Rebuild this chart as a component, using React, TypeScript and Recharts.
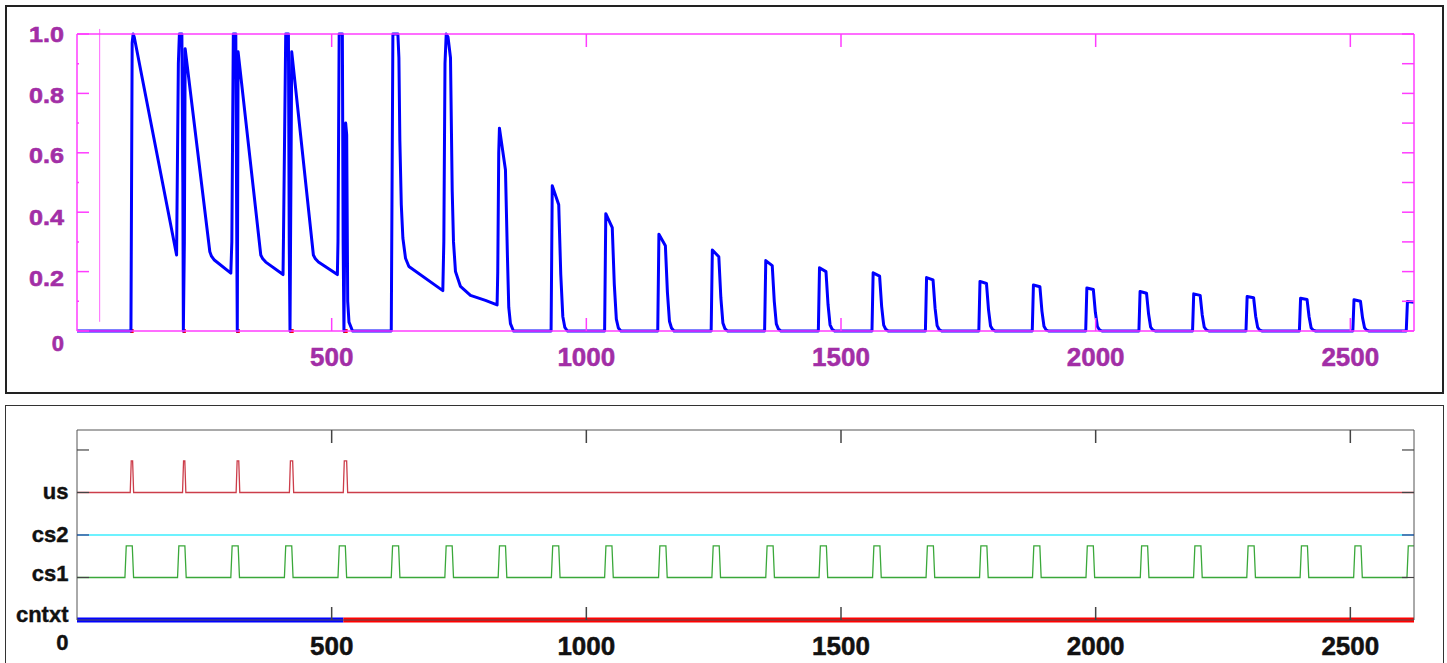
import React from 'react';
import { LineChart, Line, XAxis, YAxis, ReferenceLine } from 'recharts';

// time axis
const T_MAX = 2625;
const xTicks = [500, 1000, 1500, 2000, 2500];

// top panel: response trace as [time, value]
const topYTicks = [0, 0.1, 0.2, 0.3, 0.4, 0.5, 0.6, 0.7, 0.8, 0.9, 1];
const excitation: [number, number][] = [
  [0, 0], [105.9, 0], [108.3, 0.97], [110.2, 1.0], [112.4, 0.99], [195.5, 0.256],
  [199, 0.9], [201, 1.0], [205.9, 1.0], [207.8, 0.5], [208.8, 0], [210.8, 0.3], [212.4, 0.95],
  [260.8, 0.267], [264, 0.252], [269, 0.24], [302, 0.195],
  [304, 0.3], [306.9, 1.0], [311.8, 1.0], [313.7, 0.3], [314.7, 0], [316.3, 0.94],
  [360.8, 0.256], [364.7, 0.243], [370.6, 0.232], [404.5, 0.19],
  [405.3, 0.3], [409.8, 1.0], [415.1, 1.0], [416.7, 0.3], [418.2, 0], [421.6, 0.94],
  [464.1, 0.256], [468, 0.243], [474, 0.232], [511.2, 0.19],
  [512.4, 0.3], [514.7, 1.0], [521, 1.0], [522.5, 0.3], [524.1, 0], [527.5, 0.7],
  [529.5, 0.66], [531.5, 0.1], [534, 0.03], [541, 0],
  [617, 0], [620.2, 1.0], [630, 1.0], [632, 0.92], [633.9, 0.64], [636.7, 0.425],
  [639.8, 0.313], [645, 0.245], [651.6, 0.217], [718.2, 0.136],
  [720.2, 0.3], [722.5, 0.9], [724.9, 1.0], [728.4, 0.99], [733.3, 0.92], [736.7, 0.47],
  [739.2, 0.3], [743.1, 0.2], [752.9, 0.15], [772.5, 0.12], [801.9, 0.103], [824.8, 0.088],
  [826.1, 0.2], [828, 0.6], [829.4, 0.683], [841.2, 0.543], [845.1, 0.25], [847.7, 0.08],
  [851, 0.025], [856.9, 0],
  [930.8, 0], [933.1, 0.489], [945.8, 0.425], [949.8, 0.19], [953.8, 0.049], [957.8, 0.012], [962.8, 0],
  [1035.9, 0], [1038.2, 0.395], [1050.9, 0.348], [1054.9, 0.157], [1058.9, 0.04], [1062.9, 0.01], [1067.9, 0],
  [1140.2, 0], [1142.5, 0.326], [1155.2, 0.287], [1159.2, 0.13], [1163.2, 0.033], [1167.2, 0.01], [1172.2, 0],
  [1245.1, 0], [1247.4, 0.273], [1260.1, 0.25], [1264.1, 0.112], [1268.1, 0.027], [1272.1, 0.008], [1277.1, 0],
  [1350, 0], [1352.3, 0.237], [1365, 0.22], [1369, 0.1], [1373, 0.024], [1377, 0.007], [1382, 0],
  [1455.5, 0], [1457.8, 0.213], [1470.5, 0.2], [1474.5, 0.09], [1478.5, 0.021], [1482.5, 0.006], [1487.5, 0],
  [1560.8, 0], [1563.1, 0.196], [1575.8, 0.185], [1579.8, 0.083], [1583.8, 0.02], [1587.8, 0.006], [1592.8, 0],
  [1665.7, 0], [1668, 0.18], [1680.7, 0.172], [1684.7, 0.077], [1688.7, 0.018], [1692.7, 0.005], [1697.7, 0],
  [1770.6, 0], [1772.9, 0.167], [1785.6, 0.16], [1789.6, 0.072], [1793.6, 0.017], [1797.6, 0.005], [1802.6, 0],
  [1875.5, 0], [1877.8, 0.155], [1890.5, 0.149], [1894.5, 0.067], [1898.5, 0.016], [1902.5, 0.004], [1907.5, 0],
  [1980.4, 0], [1982.7, 0.145], [1995.4, 0.14], [1999.4, 0.063], [2003.4, 0.015], [2007.4, 0.004], [2012.4, 0],
  [2084.9, 0], [2087.2, 0.133], [2099.9, 0.127], [2103.9, 0.057], [2107.9, 0.013], [2111.9, 0.004], [2116.9, 0],
  [2190.2, 0], [2192.5, 0.125], [2205.2, 0.12], [2209.2, 0.054], [2213.2, 0.013], [2217.2, 0.004], [2222.2, 0],
  [2295.1, 0], [2297.4, 0.116], [2310.1, 0.112], [2314.1, 0.05], [2318.1, 0.012], [2322.1, 0.003], [2327.1, 0],
  [2400, 0], [2402.3, 0.11], [2415, 0.106], [2419, 0.048], [2423, 0.011], [2427, 0.003], [2432, 0],
  [2504.9, 0], [2507.2, 0.105], [2519.9, 0.1], [2523.9, 0.045], [2527.9, 0.011], [2531.9, 0.003], [2536.9, 0],
  [2609.8, 0], [2612.1, 0.099], [2625, 0.097],
];

// bottom panel: channel rows and their on/off times
const channelLevels = [0, 1, 2, 3, 4];
const channelNames = ['cntxt', 'cs1', 'cs2', 'us', ''];
const usOn = [104.5, 207.2, 312.4, 417, 522.8];
const usOff = [111.2, 213.7, 319.6, 425.4, 531.4];
const cs1On = [
  94.1, 197.4, 302, 407.2, 512.4, 617, 722.2, 826.9, 931.4, 1035.9, 1141.8, 1246.5, 1352.3,
  1456.9, 1562, 1667, 1772, 1876, 1981, 2087.6, 2192.2, 2296.7, 2401.4, 2506.5, 2611.2,
];
const cs1Off = [
  111.1, 214.4, 319, 424.2, 529.4, 634, 739.2, 843.9, 948.4, 1052.9, 1158.8, 1263.5, 1369.3,
  1473.9, 1579, 1684, 1789, 1893, 1998, 2104.6, 2209.2, 2313.7, 2418.4, 2523.5,
];
const contextBounds = [0, 523, 2625];

const MAGENTA = '#ff3cff';
const PURPLE = '#a22ea6';
const FONT = '"Liberation Sans", Arial, sans-serif';
const PULSE_H = 0.745;

const topRows = excitation.map(([t, v]) => ({ t, v }));
const axisAnchor = [{ t: 0, v: 0 }, { t: T_MAX, v: 0 }];

const usMarkRows: { t: number; v: number | null }[] = [];
usOn.forEach((on, i) => {
  usMarkRows.push({ t: on, v: 0 }, { t: usOff[i], v: 0 });
  if (i < usOn.length - 1) usMarkRows.push({ t: (usOff[i] + usOn[i + 1]) / 2, v: null });
});

function pulseRows(on: number[], off: number[], level: number, edge: number) {
  const rows = [{ t: 0, v: level }];
  on.forEach((o, i) => {
    rows.push({ t: o, v: level }, { t: o + edge, v: level + PULSE_H });
    if (off[i] !== undefined) {
      rows.push({ t: off[i] - edge, v: level + PULSE_H }, { t: off[i], v: level });
    } else {
      rows.push({ t: T_MAX, v: level + PULSE_H });
    }
  });
  if (off.length === on.length) rows.push({ t: T_MAX, v: level });
  return rows;
}

const usRows = pulseRows(usOn, usOff, 3, 2);
const cs1Rows = pulseRows(cs1On, cs1Off, 1, 2.6);
const cs2Rows = [{ t: 0, v: 2 }, { t: T_MAX, v: 2 }];
const ctxA = [{ t: contextBounds[0], v: 0 }, { t: contextBounds[1], v: 0 }];
const ctxB = [{ t: contextBounds[1], v: 0 }, { t: contextBounds[2], v: 0 }];

const topLabelDy: Record<number, number> = { 10: 8, 8: 9.5, 6: 10.5, 4: 13, 2: 14, 0: 20 };

const TopLeftTick = (props: any) => {
  const { x, y, payload } = props;
  const k = Math.round(payload.value * 10);
  const major = k % 2 === 0;
  const label = k === 0 ? '0' : (k / 10).toFixed(1);
  return (
    <g>
      <line x1={x} x2={x + (major ? 12 : 2)} y1={y} y2={y} stroke={MAGENTA} strokeWidth={1.5} />
      {major && (
        <text
          x={x - 13}
          y={y + topLabelDy[k]}
          textAnchor="end"
          fill={PURPLE}
          stroke={PURPLE}
          strokeWidth={0.6}
          fontFamily={FONT}
          fontWeight="bold"
          fontSize={22}
          {...(k === 0 ? {} : { textLength: 35, lengthAdjust: 'spacingAndGlyphs' })}
        >
          {label}
        </text>
      )}
    </g>
  );
};

const TopRightTick = (props: any) => {
  const { x, y } = props;
  return <line x1={x} x2={x - 12} y1={y} y2={y} stroke={MAGENTA} strokeWidth={1.5} />;
};

const makeBottomXTick = (color: string, tickColor: string) => (props: any) => {
  const { x, y, payload } = props;
  return (
    <g>
      <line x1={x} x2={x} y1={y} y2={y - 13} stroke={tickColor} strokeWidth={1.5} />
      <text
        x={x}
        y={y + 35}
        textAnchor="middle"
        fill={color}
        stroke={color}
        strokeWidth={0.5}
        fontFamily={FONT}
        fontWeight="bold"
        fontSize={26}
      >
        {payload.value}
      </text>
    </g>
  );
};

const makeTopXTick = (tickColor: string) => (props: any) => {
  const { x, y } = props;
  return <line x1={x} x2={x} y1={y} y2={y + 13} stroke={tickColor} strokeWidth={1.5} />;
};

const chanLabelDy: Record<number, number> = { 3: 6.6, 2: 6.7, 1: 4, 0: 1.7 };

const ChanLeftTick = (props: any) => {
  const { x, y, payload } = props;
  const v = payload.value as number;
  const name = channelNames[channelLevels.indexOf(v)];
  return (
    <g>
      {v > 0 && (
        <line x1={x} x2={x + 12} y1={y} y2={y} stroke={v === 2 ? '#333388' : '#444'} strokeWidth={1.2} />
      )}
      {name && (
        <text x={x - 8.5} y={y + chanLabelDy[v]} textAnchor="end" fill="#111" stroke="#111" strokeWidth={0.4} fontFamily={FONT} fontWeight="bold" fontSize={22}>
          {name}
        </text>
      )}
      {v === 0 && (
        <text x={x - 8.5} y={y + 30} textAnchor="end" fill="#111" stroke="#111" strokeWidth={0.4} fontFamily={FONT} fontWeight="bold" fontSize={22}>
          0
        </text>
      )}
    </g>
  );
};

const ChanRightTick = (props: any) => {
  const { x, y, payload } = props;
  return (
    <line x1={x} x2={x - 12} y1={y} y2={y} stroke={payload.value === 2 ? '#333388' : '#444'} strokeWidth={1.2} />
  );
};

export default function App() {
  return (
    <div style={{ position: 'absolute', left: 0, top: 0, width: 1447, height: 663, overflow: 'hidden', background: '#fff' }}>
      <div style={{ position: 'absolute', left: 5, top: 5, width: 1439, height: 389, border: '2px solid #222', boxSizing: 'border-box' }} />
      <div style={{ position: 'absolute', left: 5, top: 405, width: 1439, height: 300, border: '1.5px solid #333', boxSizing: 'border-box' }} />

      <div style={{ position: 'absolute', left: 0, top: 0 }}>
        <LineChart width={1447} height={400} margin={{ top: 32, right: 31, bottom: 19, left: 17 }}>
          <XAxis
            dataKey="t"
            type="number"
            domain={[0, T_MAX]}
            ticks={xTicks}
            interval={0}
            height={50}
            tickSize={0}
            tickMargin={0}
            tickLine={false}
            axisLine={{ stroke: MAGENTA, strokeWidth: 1.5 }}
            tick={makeBottomXTick(PURPLE, MAGENTA)}
          />
          <XAxis
            xAxisId="top"
            orientation="top"
            dataKey="t"
            type="number"
            domain={[0, T_MAX]}
            ticks={xTicks}
            interval={0}
            height={2}
            tickSize={0}
            tickMargin={0}
            tickLine={false}
            axisLine={{ stroke: MAGENTA, strokeWidth: 1.5 }}
            tick={makeTopXTick(MAGENTA)}
          />
          <YAxis
            type="number"
            domain={[0, 1]}
            ticks={topYTicks}
            interval={0}
            width={60}
            tickSize={0}
            tickMargin={0}
            tickLine={false}
            axisLine={{ stroke: MAGENTA, strokeWidth: 1.5 }}
            tick={TopLeftTick}
          />
          <YAxis
            yAxisId="r"
            orientation="right"
            type="number"
            domain={[0, 1]}
            ticks={topYTicks}
            interval={0}
            width={2}
            tickSize={0}
            tickMargin={0}
            tickLine={false}
            axisLine={{ stroke: MAGENTA, strokeWidth: 1.5 }}
            tick={TopRightTick}
          />
          <ReferenceLine
            segment={[{ x: 44.5, y: 0.031 }, { x: 44.5, y: 1.017 }]}
            stroke="#ff66ff"
            strokeWidth={1}
            ifOverflow="visible"
          />
          <Line xAxisId="top" yAxisId="r" data={axisAnchor} dataKey="v" stroke="none" dot={false} legendType="none" isAnimationActive={false} />
          <Line data={usMarkRows} dataKey="v" stroke="#ff0000" strokeWidth={4} dot={false} connectNulls={false} isAnimationActive={false} />
          <Line
            data={topRows}
            dataKey="v"
            type="linear"
            stroke="#0000ff"
            strokeWidth={3}
            strokeLinejoin="round"
            dot={false}
            isAnimationActive={false}
          />
        </LineChart>
      </div>

      <div style={{ position: 'absolute', left: 0, top: 400 }}>
        <LineChart width={1447} height={263} margin={{ top: 28, right: 31, bottom: 3, left: 17 }}>
          <XAxis
            dataKey="t"
            type="number"
            domain={[0, T_MAX]}
            ticks={xTicks}
            interval={0}
            height={40}
            tickSize={0}
            tickMargin={0}
            tickLine={false}
            axisLine={{ stroke: '#555', strokeWidth: 1 }}
            tick={makeBottomXTick('#111', '#444')}
          />
          <XAxis
            xAxisId="top"
            orientation="top"
            dataKey="t"
            type="number"
            domain={[0, T_MAX]}
            ticks={xTicks}
            interval={0}
            height={2}
            tickSize={0}
            tickMargin={0}
            tickLine={false}
            axisLine={{ stroke: '#555', strokeWidth: 1 }}
            tick={makeTopXTick('#444')}
          />
          <YAxis
            type="number"
            domain={[0, 4.47]}
            ticks={channelLevels}
            interval={0}
            width={60}
            tickSize={0}
            tickMargin={0}
            tickLine={false}
            axisLine={{ stroke: '#555', strokeWidth: 1 }}
            tick={ChanLeftTick}
          />
          <YAxis
            yAxisId="r"
            orientation="right"
            type="number"
            domain={[0, 4.47]}
            ticks={[1, 2, 3, 4]}
            interval={0}
            width={2}
            tickSize={0}
            tickMargin={0}
            tickLine={false}
            axisLine={{ stroke: '#555', strokeWidth: 1 }}
            tick={ChanRightTick}
          />
          <Line xAxisId="top" yAxisId="r" data={axisAnchor} dataKey="v" stroke="none" dot={false} legendType="none" isAnimationActive={false} />
          <Line data={usRows} dataKey="v" stroke="#cc3d4a" strokeWidth={1.3} dot={false} isAnimationActive={false} />
          <Line data={cs2Rows} dataKey="v" stroke="#3ceeff" strokeWidth={1.6} dot={false} isAnimationActive={false} />
          <Line data={cs1Rows} dataKey="v" stroke="#3aa83a" strokeWidth={1.3} dot={false} isAnimationActive={false} />
          <Line data={ctxA} dataKey="v" stroke="#0000ff" strokeWidth={5} dot={false} isAnimationActive={false} />
          <Line data={ctxB} dataKey="v" stroke="#ff0000" strokeWidth={5} dot={false} isAnimationActive={false} />
        </LineChart>
      </div>
    </div>
  );
}
